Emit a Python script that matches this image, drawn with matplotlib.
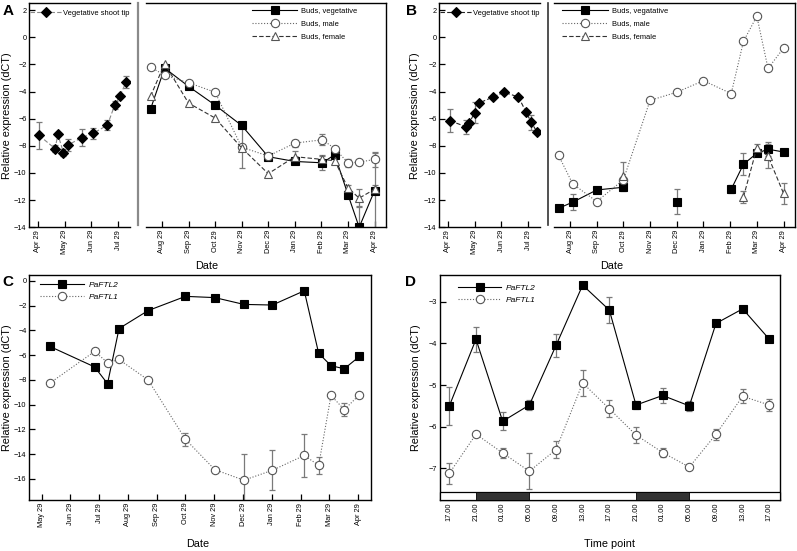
import numpy as np
import matplotlib
matplotlib.use('Agg')
import matplotlib.pyplot as plt
from matplotlib.lines import Line2D
from matplotlib.patches import Rectangle

plt.rcParams['font.family'] = ['Liberation Sans', 'DejaVu Sans']
plt.rcParams['xtick.direction'] = 'in'
plt.rcParams['ytick.direction'] = 'in'
plt.rcParams['xtick.major.size'] = 4
plt.rcParams['ytick.major.size'] = 4
plt.rcParams['xtick.major.width'] = 0.9
plt.rcParams['ytick.major.width'] = 0.9
plt.rcParams['axes.linewidth'] = 1.0

# ---------------- data ----------------
early_ticks = ['Apr 29', 'May 29', 'Jun 29', 'Jul 29']
late_ticks = ['Aug 29', 'Sep 29', 'Oct 29', 'Nov 29', 'Dec 29', 'Jan 29', 'Feb 29', 'Mar 29', 'Apr 29']

# Panel A - vegetative shoot tip (months after Apr 29)
a_tip_x = [0.05, 0.65, 0.75, 0.96, 1.13, 1.63, 2.05, 2.59, 2.86, 3.06, 3.28]
a_tip_y = [-7.23, -8.21, -7.16, -8.5, -7.94, -7.4, -7.09, -6.48, -5.01, -4.3, -3.32]
a_tip_err = [1.0, 0.25, 0.0, 0.27, 0.45, 0.63, 0.4, 0.37, 0.3, 0.0, 0.45]

# Panel A - buds (months after Aug 29)
bud_x = [-0.43, 0.1, 1.0, 2.0, 3.0, 4.0, 5.0, 6.04, 6.5, 7.0, 7.42, 8.0]
a_veg_y = [-5.3, -2.27, -3.62, -5.0, -6.5, -8.8, -9.15, -9.25, -8.65, -11.6, -14.0, -11.3]
a_veg_err = [0, 0, 0.15, 0, 0, 0.15, 0, 0.5, 0, 0.2, 1.55, 2.8]
a_male_y = [-2.2, -2.8, -3.35, -4.05, -8.1, -8.75, -7.8, -7.55, -8.2, -9.25, -9.2, -9.0]
a_male_err = [0, 0, 0, 0, 1.5, 0, 0.25, 0.4, 0, 0.3, 0, 0.55]
a_fem_y = [-4.35, -1.95, -4.85, -5.95, -8.15, -10.05, -8.8, -9.0, -9.1, -11.1, -11.85, -11.2]
a_fem_err = [0, 0, 0, 0, 0, 0, 0.45, 0.3, 0, 0.2, 0.65, 0.3]

# Panel B - vegetative shoot tip
b_tip_x = [0.09, 0.69, 0.81, 1.0, 1.16, 1.69, 2.09, 2.63, 2.91, 3.1, 3.31]
b_tip_y = [-6.15, -6.6, -6.3, -5.55, -4.85, -4.4, -4.05, -4.4, -5.5, -6.25, -6.95]
b_tip_err = [0.85, 0.5, 0.0, 0.75, 0.0, 0.0, 0.0, 0.0, 0.0, 0.55, 0.0]

# Panel B - buds
b_veg_y = [-12.6, -12.15, -11.25, -11.05, np.nan, -12.1, np.nan, -11.2, -9.35, -8.55, -8.25, -8.45]
b_veg_err = [0, 0.6, 0.1, 0.2, 0, 0.95, 0, 0.3, 0.8, 0.2, 0.5, 0]
b_male_y = [-8.7, -10.8, -12.1, -10.5, -4.65, -4.05, -3.2, -4.15, -0.3, 1.55, -2.3, -0.8]
b_male_err = [0, 0, 0, 0, 0, 0, 0, 0, 0, 0, 0, 0]
b_fem_y = [np.nan, np.nan, np.nan, -10.25, np.nan, np.nan, np.nan, np.nan, -11.75, -8.15, -8.75, -11.5]
b_fem_err = [0, 0, 0, 1.05, 0, 0, 0, 0, 0.45, 0.3, 0.9, 0.8]

# Panel C (months after May 29)
c_ticks = ['May 29', 'Jun 29', 'Jul 29', 'Aug 29', 'Sep 29', 'Oct 29', 'Nov 29',
           'Dec 29', 'Jan 29', 'Feb 29', 'Mar 29', 'Apr 29']
c_x = [0.29, 1.84, 2.29, 2.69, 3.7, 5.0, 6.02, 7.03, 8.02, 9.13, 9.63, 10.06, 10.52, 11.05]
c_ftl2 = [-5.3, -6.95, -8.3, -3.85, -2.4, -1.25, -1.35, -1.9, -1.95, -0.8, -5.85, -6.85, -7.1, -6.1]
c_ftl2_err = [0, 0, 0, 0, 0, 0, 0, 0, 0, 0, 0, 0, 0.25, 0]
c_ftl1 = [-8.25, -5.7, -6.6, -6.35, -8.0, -12.8, -15.25, -16.1, -15.3, -14.1, -14.9, -9.25, -10.4, -9.2]
c_ftl1_err = [0, 0, 0, 0, 0, 0.55, 0, 2.1, 1.6, 1.75, 0.7, 0, 0.5, 0]

# Panel D
d_ticks = ['17.00', '21.00', '01.00', '05.00', '09.00', '13.00', '17.00',
           '21.00', '01.00', '05.00', '09.00', '13.00', '17.00']
d_ftl2 = [-5.5, -3.9, -5.87, -5.48, -4.05, -2.6, -3.2, -5.48, -5.25, -5.5, -3.52, -3.17, -3.9]
d_ftl2_err = [0.45, 0.3, 0.22, 0.12, 0.28, 0, 0.32, 0.1, 0.17, 0.12, 0, 0, 0]
d_ftl1 = [-7.12, -6.18, -6.63, -7.07, -6.55, -4.95, -5.57, -6.2, -6.62, -6.97, -6.18, -5.27, -5.48]
d_ftl1_err = [0.25, 0, 0.12, 0.43, 0.2, 0.32, 0.2, 0.2, 0.1, 0, 0.13, 0.17, 0.14]
d_dark = [(1, 3), (7, 9)]

# ---------------- helpers ----------------
ERR_C = '#7a7a7a'
TICK_FS = 5.3
LAB_FS = 7.8
LEG_FS = 5.4


def series(ax, x, y, err, marker, ms, mfc, mec, ls, lc, label):
    x = np.asarray(x, float)
    y = np.asarray(y, float)
    err = np.asarray(err, float)
    m = (err > 0) & ~np.isnan(y)
    if m.any():
        ax.errorbar(x[m], y[m], yerr=err[m], fmt='none', ecolor=ERR_C,
                    elinewidth=0.9, capsize=2.4, capthick=0.9, zorder=2)
    ln, = ax.plot(x, y, ls=ls, color=lc, lw=0.8, marker=marker, ms=ms,
                  mfc=mfc, mec=mec, mew=0.8, label=label, zorder=3)
    return ln


def style(ax):
    ax.tick_params(labelsize=TICK_FS, pad=2)
    for lab in ax.get_xticklabels():
        lab.set_rotation(90)


W, H = 797, 551
fig = plt.figure(figsize=(W / 100, H / 100), dpi=100)


def fax(x0, x1, y0, y1):
    return fig.add_axes([x0 / W, 1 - y1 / H, (x1 - x0) / W, (y1 - y0) / H])


def broken_panel(xl, xsep, xr0, xr1, tip, buds, sep_color, sep_lw, veg_label):
    axl = fax(xl, 130 + (xl - 29.3), 3.3, 227.3)
    axr = fax(xr0, xr1, 3.3, 227.3)
    for a in (axl, axr):
        a.set_ylim(-14, 2.5)
        a.set_yticks(range(2, -15, -2))
    axl.set_xlim(-0.31, 3.43)
    axl.set_xticks(range(4))
    axl.set_xticklabels(early_ticks)
    axl.spines['right'].set_visible(False)
    axr.set_xlim(-0.6, 8.43)
    axr.set_xticks(range(9))
    axr.set_xticklabels(late_ticks)
    axr.spines['left'].set_visible(False)
    axr.tick_params(axis='y', left=False, labelleft=False)
    style(axl)
    style(axr)
    tx, ty, te, tcol = tip
    h = series(axl, tx, ty, te, 'D', 4.6, 'black', 'black', (0, (4, 2)), tcol, 'Vegetative shoot tip')
    axl.legend(handles=[h], loc='upper left', bbox_to_anchor=(0.0, 0.975), frameon=False,
               fontsize=LEG_FS, handlelength=4.3, handletextpad=0.15, borderaxespad=0,
               borderpad=0.1)
    fig.add_artist(Line2D([xsep / W, xsep / W], [1 - 225 / H, 1 - 3.3 / H],
                          transform=fig.transFigure, color=sep_color, lw=sep_lw))
    (vy, ve), (my, me), (fy, fe) = buds
    h1 = series(axr, bud_x, vy, ve, 's', 5.2, 'black', 'black', '-', 'black', veg_label)
    h2 = series(axr, bud_x, my, me, 'o', 6.0, 'white', '#555555', (0, (1, 1.6)), '#666666', 'Buds, male')
    h3 = series(axr, bud_x, fy, fe, '^', 5.6, 'white', '#555555', (0, (4, 2)), '#333333', 'Buds, female')
    return axl, axr, [h1, h2, h3]


# Panel A
axAl, axAr, hA = broken_panel(29.3, 138.3, 146, 386,
                              (a_tip_x, a_tip_y, a_tip_err, '#888888'),
                              ((a_veg_y, a_veg_err), (a_male_y, a_male_err), (a_fem_y, a_fem_err)),
                              '#8a8a8a', 1.6, 'Buds, vegetative')
axAr.legend(handles=hA, loc='upper left', bbox_to_anchor=(0.44, 0.985), frameon=False,
            fontsize=LEG_FS, handlelength=6.0, handletextpad=0.5, labelspacing=0.75,
            borderaxespad=0, borderpad=0.1)
axAl.set_ylabel('Relative expression (dCT)', fontsize=LAB_FS)
axAl.yaxis.set_label_coords(-0.172, 0.5)

# Panel B
axBl, axBr, hB = broken_panel(439.3, 547.7, 554, 795,
                              (b_tip_x, b_tip_y, b_tip_err, '#222222'),
                              ((b_veg_y, b_veg_err), (b_male_y, b_male_err), (b_fem_y, b_fem_err)),
                              '#333333', 1.2, 'Buds, vegatative')
axBr.legend(handles=hB, loc='upper left', bbox_to_anchor=(0.03, 0.985), frameon=False,
            fontsize=LEG_FS, handlelength=6.2, handletextpad=0.5, labelspacing=0.75,
            borderaxespad=0, borderpad=0.1)
axBl.set_ylabel('Relative expression (dCT)', fontsize=LAB_FS)
axBl.yaxis.set_label_coords(-0.187, 0.5)

fig.text(207 / W, 1 - 266 / H, 'Date', ha='center', va='center', fontsize=LAB_FS)
fig.text(612 / W, 1 - 266 / H, 'Date', ha='center', va='center', fontsize=LAB_FS)

# Panel C
axC = fax(29.3, 371, 274.7, 500)
axC.set_xlim(-0.43, 11.45)
axC.set_ylim(-17.7, 0.5)
axC.set_yticks(range(0, -17, -2))
axC.set_xticks(range(12))
axC.set_xticklabels(c_ticks)
style(axC)
hc2 = series(axC, c_x, c_ftl2, c_ftl2_err, 's', 5.2, 'black', 'black', '-', 'black', 'PaFTL2')
hc1 = series(axC, c_x, c_ftl1, c_ftl1_err, 'o', 6.0, 'white', '#555555', (0, (1, 1.6)), '#666666', 'PaFTL1')
axC.legend(handles=[hc2, hc1], loc='upper left', bbox_to_anchor=(0.03, 0.975), frameon=False,
           prop={'size': 6.0, 'style': 'italic'}, handlelength=5.2, handletextpad=0.6,
           labelspacing=0.45, borderaxespad=0, borderpad=0.1)
axC.set_ylabel('Relative expression (dCT)', fontsize=LAB_FS)
axC.yaxis.set_label_coords(-0.052, 0.5)
fig.text(198 / W, 1 - 544 / H, 'Date', ha='center', va='center', fontsize=LAB_FS)

# Panel D
axD = fax(440, 780, 274.7, 500)
axD.set_xlim(-0.35, 12.4)
axD.set_ylim(-7.76, -2.35)
axD.set_yticks([-3, -4, -5, -6, -7])
axD.set_xticks(range(13))
axD.set_xticklabels(d_ticks)
style(axD)
bar_lo, bar_hi = -7.76, -7.56
axD.add_patch(Rectangle((-0.35, bar_lo), 12.75, bar_hi - bar_lo, facecolor='white',
                        edgecolor='black', lw=0.9, zorder=4, clip_on=False))
for s, e in d_dark:
    axD.add_patch(Rectangle((s, bar_lo), e - s, bar_hi - bar_lo, facecolor='#333333',
                            edgecolor='black', lw=0.6, zorder=5))
hd2 = series(axD, range(13), d_ftl2, d_ftl2_err, 's', 5.2, 'black', 'black', '-', 'black', 'PaFTL2')
hd1 = series(axD, range(13), d_ftl1, d_ftl1_err, 'o', 6.0, 'white', '#555555', (0, (1, 1.6)), '#666666', 'PaFTL1')
axD.legend(handles=[hd2, hd1], loc='upper left', bbox_to_anchor=(0.05, 0.96), frameon=False,
           prop={'size': 6.0, 'style': 'italic'}, handlelength=5.2, handletextpad=0.6,
           labelspacing=0.45, borderaxespad=0, borderpad=0.1)
axD.set_ylabel('Relative expression (dCT)', fontsize=LAB_FS)
axD.yaxis.set_label_coords(-0.057, 0.5)
fig.text(610 / W, 1 - 544 / H, 'Time point', ha='center', va='center', fontsize=LAB_FS)

# panel letters
for t, x, y in [('A', 3, 11), ('B', 406, 11), ('C', 2, 282), ('D', 405, 282)]:
    fig.text(x / W, 1 - y / H, t, fontsize=11, fontweight='bold', ha='left', va='center')

fig.savefig('out.png', dpi=100)
